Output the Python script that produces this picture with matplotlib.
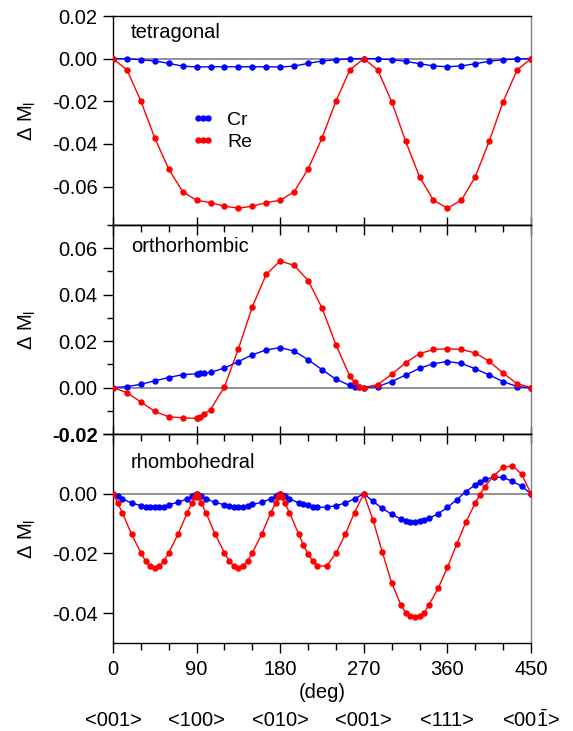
import numpy as np
import matplotlib
matplotlib.use("Agg")
import matplotlib.pyplot as plt
from matplotlib.ticker import MultipleLocator, FixedLocator
from matplotlib.transforms import blended_transform_factory

plt.rcParams['font.family'] = ['Liberation Sans', 'DejaVu Sans']
plt.rcParams['mathtext.fontset'] = 'custom'
plt.rcParams['mathtext.rm'] = 'Liberation Sans'
plt.rcParams['mathtext.it'] = 'Liberation Sans:italic'

# --- tetragonal (15 deg steps) ---
ang_tet = [0, 15, 30, 45, 60, 75, 90, 105, 120, 135, 150, 165, 180, 195, 210, 225, 240, 255,
           270, 285, 300, 315, 330, 345, 360, 375, 390, 405, 420, 435, 450]
cr_tet = [0.0, 0.0, -0.0005, -0.0011, -0.0022, -0.0035, -0.0039, -0.0038, -0.0038, -0.0038,
          -0.0038, -0.0038, -0.0039, -0.0035, -0.0022, -0.0011, -0.0005, -0.0001,
          0.0, 0.0, -0.0005, -0.0012, -0.0024, -0.0034, -0.0038, -0.0034, -0.0024, -0.0012,
          -0.0005, -0.0001, 0.0]
re_tet = [0.0, -0.0053, -0.0199, -0.0372, -0.0518, -0.0624, -0.0664, -0.0675, -0.0692, -0.0701,
          -0.0692, -0.0675, -0.0664, -0.0624, -0.0518, -0.0372, -0.0199, -0.0053,
          0.0, -0.0053, -0.0202, -0.0387, -0.0554, -0.0664, -0.0701, -0.0664, -0.0554, -0.0387,
          -0.0202, -0.0053, 0.0]

# --- orthorhombic ---
ang_ort = [0, 15, 30, 45, 60, 75, 90, 92, 94, 98, 105, 120, 135, 150, 165, 180, 195, 210, 225,
           240, 255, 260, 265, 270, 285, 300, 315, 330, 345, 360, 375, 390, 405, 420, 435, 450]
cr_ort = [0.0, 0.0004, 0.0014, 0.0029, 0.0043, 0.0056, 0.0059, 0.0059, 0.0061, 0.0062, 0.0065,
          0.0084, 0.0112, 0.0141, 0.0162, 0.0172, 0.0157, 0.0120, 0.0077, 0.0036, 0.0009,
          0.0004, 0.0001, 0.0, 0.0004, 0.0026, 0.0054, 0.0083, 0.0103, 0.0112, 0.0104, 0.0081,
          0.0054, 0.0026, 0.0004, 0.0]
re_ort = [0.0, -0.0022, -0.0062, -0.0103, -0.0126, -0.0130, -0.0133, -0.0130, -0.0126, -0.0114,
          -0.0095, 0.0004, 0.0167, 0.0348, 0.0488, 0.0545, 0.0526, 0.0461, 0.0343, 0.0184,
          0.0049, 0.0022, 0.0004, 0.0, 0.0013, 0.0057, 0.0107, 0.0146, 0.0164, 0.0167, 0.0164,
          0.0149, 0.0113, 0.0062, 0.0017, 0.0]

# --- rhombohedral ---
ang_rho = [0, 5, 10, 20, 30, 35, 40, 45, 50, 55, 60, 70, 80, 85, 88,
           90, 92, 95, 100, 110, 120, 125, 130, 135, 140, 145, 150, 160, 170, 175, 178,
           180, 182, 185, 190, 200, 205, 210, 215, 220, 230, 240, 250, 260,
           270, 280, 290, 300, 310, 315, 320, 325, 330, 335, 340, 350, 360, 370, 380,
           390, 395, 400, 410, 420, 430, 440, 450]
cr_rho = [0.0, -0.0007, -0.0017, -0.0031, -0.0040, -0.0043, -0.0045, -0.0045, -0.0045, -0.0043,
          -0.0037, -0.0029, -0.0017, -0.0009, -0.0003,
          0.0, -0.0003, -0.0009, -0.0017, -0.0029, -0.0037, -0.0042, -0.0045, -0.0045, -0.0043,
          -0.0040, -0.0036, -0.0029, -0.0017, -0.0009, -0.0003,
          0.0, -0.0003, -0.0009, -0.0017, -0.0031, -0.0034, -0.0039, -0.0043, -0.0045, -0.0045,
          -0.0040, -0.0031, -0.0017,
          0.0, -0.0026, -0.0049, -0.0069, -0.0085, -0.0091, -0.0094, -0.0095, -0.0093, -0.0087,
          -0.0083, -0.0067, -0.0046, -0.0020, 0.0007, 0.0030, 0.0039, 0.0048, 0.0055, 0.0055,
          0.0041, 0.0025, 0.0]
re_rho = [0.0, -0.0031, -0.0063, -0.0136, -0.0198, -0.0225, -0.0242, -0.0249, -0.0242, -0.0225,
          -0.0198, -0.0136, -0.0063, -0.0031, -0.0010,
          0.0, -0.0010, -0.0031, -0.0063, -0.0136, -0.0198, -0.0225, -0.0242, -0.0249, -0.0242,
          -0.0225, -0.0198, -0.0136, -0.0063, -0.0031, -0.0010,
          0.0, -0.0010, -0.0031, -0.0063, -0.0136, -0.0172, -0.0203, -0.0225, -0.0242, -0.0242,
          -0.0200, -0.0136, -0.0063,
          0.0, -0.0089, -0.0196, -0.0299, -0.0373, -0.0398, -0.0409, -0.0413, -0.0409, -0.0398,
          -0.0373, -0.0317, -0.0247, -0.0169, -0.0094, -0.0031, -0.0003, 0.0022, 0.0061, 0.0088,
          0.0094, 0.0065, 0.0]

panel_names = ['tetragonal', 'orthorhombic', 'rhombohedral']
ylims = [(-0.078, 0.02), (-0.02, 0.07), (-0.05, 0.02)]
yticks = [[-0.06, -0.04, -0.02, 0.0, 0.02],
          [-0.02, 0.0, 0.02, 0.04, 0.06],
          [-0.04, -0.02, 0.0, 0.02]]
xticks = [0, 90, 180, 270, 360, 450]
directions = ['<001>', '<100>', '<010>', '<001>', '<111>', r'<00$\bar{\mathrm{1}}$>']

FS = 14.5
fig = plt.figure(figsize=(5.73, 7.31), dpi=100)
left, width = 113 / 573, 418 / 573
h = 209 / 731
bottoms = [1 - 225 / 731, 1 - 434 / 731, 1 - 643 / 731]
axes = [fig.add_axes([left, b, width, h]) for b in bottoms]

data = [(ang_tet, cr_tet, re_tet), (ang_ort, cr_ort, re_ort), (ang_rho, cr_rho, re_rho)]

for i, ax in enumerate(axes):
    ang, cr, re = data[i]
    ax.axhline(0, color='#7f7f7f', lw=1.2, zorder=1)
    ax.plot(ang, cr, '-o', color='#0000ff', lw=1, ms=3.6, label='Cr', zorder=3)
    ax.plot(ang, re, '-o', color='#ff0000', lw=1, ms=3.6, label='Re', zorder=4)
    ax.set_xlim(0, 450)
    ax.set_ylim(*ylims[i])
    ax.yaxis.set_major_locator(FixedLocator(yticks[i]))
    labels = [f'{v:.2f}' for v in yticks[i]]
    if i == 2:
        # top tick of the lowest panel sits on the shared border, left unlabeled
        labels[-1] = ''
    ax.set_yticklabels(labels)
    ax.tick_params(axis='y', which='major', direction='out', length=7, width=1,
                   labelsize=FS, pad=4, right=False)
    ax.tick_params(axis='y', which='minor', direction='out', length=4, width=1, right=False)
    ax.set_xticks(xticks)
    ax.spines['right'].set_color('#808080')
    for s in ('left', 'top', 'bottom', 'right'):
        ax.spines[s].set_linewidth(1)
    ax.text(0.043, [0.923, 0.896, 0.865][i], panel_names[i], transform=ax.transAxes,
            fontsize=FS, va='center', ha='left')
    ax.set_ylabel(r'$\Delta$ M$_\mathrm{l}$', fontsize=FS)
    ax.yaxis.set_label_coords(-0.18, 0.5)

    if i > 0:
        sec = ax.secondary_xaxis('top')
        sec.set_xticks(xticks)
        sec.xaxis.set_minor_locator(MultipleLocator(30))
        sec.tick_params(which='major', direction='in', length=7, width=1, labeltop=False)
        sec.tick_params(which='minor', direction='in', length=5, width=1)
        sec.spines['top'].set_linewidth(1)

    if i < 2:
        ax.tick_params(axis='x', which='major', direction='in', length=6, width=1,
                       top=False, labelbottom=False)
    else:
        ax.xaxis.set_minor_locator(MultipleLocator(30))
        ax.tick_params(axis='x', which='major', direction='out', length=7, width=1,
                       top=False, labelsize=FS, pad=5)
        ax.tick_params(axis='x', which='minor', direction='out', length=5, width=1, top=False)

axes[1].yaxis.set_minor_locator(MultipleLocator(0.01))
# the border label between the lower two panels is drawn a little heavier
for t in axes[1].get_yticklabels():
    if t.get_text() == '-0.02':
        t.set_fontweight('semibold')

leg = axes[0].legend(loc='upper left', bbox_to_anchor=(0.19, 0.545), frameon=False,
                     numpoints=3, fontsize=FS - 0.5, handlelength=1.1, handletextpad=0.7,
                     labelspacing=0.25, borderpad=0, borderaxespad=0)

ax_b = axes[2]
ax_b.set_xlabel('(deg)', fontsize=FS, labelpad=3)
trans = blended_transform_factory(ax_b.transData, ax_b.transAxes)
for xv, lbl in zip(xticks, directions):
    ax_b.text(xv, -0.37, lbl, transform=trans, ha='center', va='center', fontsize=FS)

fig.savefig('out.png', dpi=100)
